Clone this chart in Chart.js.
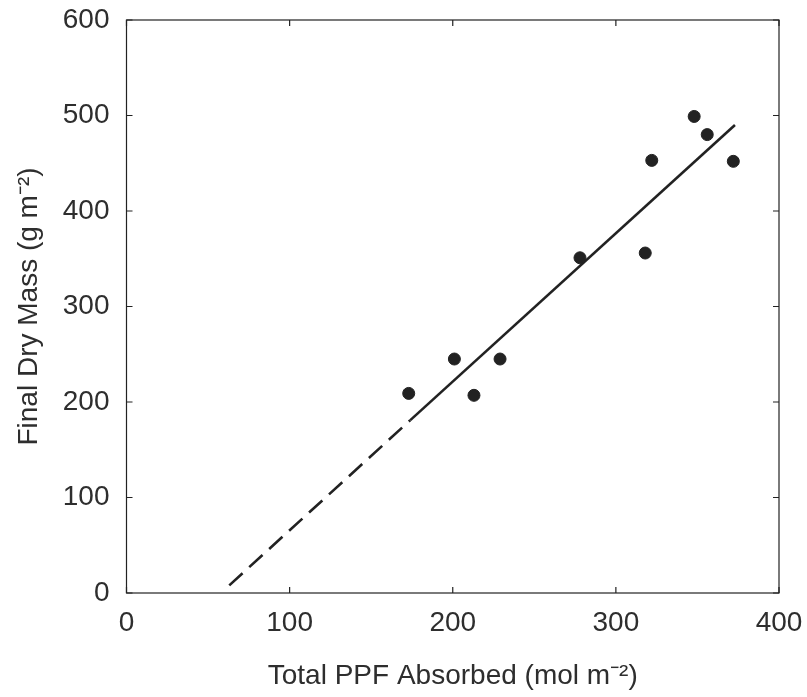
<!DOCTYPE html>
<html>
<head>
<meta charset="utf-8">
<script src="https://cdn.jsdelivr.net/npm/chart.js@4"></script>
<style>
  html, body { margin: 0; padding: 0; background: #ffffff; }
  #wrap { width: 807px; height: 697px; }
</style>
</head>
<body>
<div id="wrap"><canvas id="chart" width="807" height="697"></canvas></div>
<script>
const ppfAbsorbed = [173, 201, 213, 229, 278, 318, 322, 348, 356, 372];
const finalDryMass = [209, 245, 207, 245, 351, 356, 453, 499, 480, 452];

// Regression line: solid over the data range, dashed extrapolation below it
const fitSolidX = [174, 373];
const fitSolidY = [181, 490];
const fitDashX = [63, 174];
const fitDashY = [8, 181];

const xTicks = [0, 100, 200, 300, 400];
const yTicks = [0, 100, 200, 300, 400, 500, 600];

const inkColor = "#222222";
const textColor = "#2e2e2e";

function toPoints(xs, ys) {
  return xs.map((x, i) => ({ x: x, y: ys[i] }));
}

// Draw the frame and the inward-pointing ticks on all four sides
const frameTicks = {
  id: "frameTicks",
  afterDatasetsDraw(chart) {
    const { ctx, chartArea } = chart;
    const { left, right, top, bottom } = chartArea;
    const xs = chart.scales.x;
    const ys = chart.scales.y;
    const len = 6;
    ctx.save();
    ctx.strokeStyle = inkColor;
    ctx.lineWidth = 1.2;
    ctx.strokeRect(left, top, right - left, bottom - top);
    ctx.beginPath();
    xTicks.forEach((v) => {
      const px = xs.getPixelForValue(v);
      ctx.moveTo(px, bottom);
      ctx.lineTo(px, bottom - len);
      ctx.moveTo(px, top);
      ctx.lineTo(px, top + len);
    });
    yTicks.forEach((v) => {
      const py = ys.getPixelForValue(v);
      ctx.moveTo(left, py);
      ctx.lineTo(left + len, py);
      ctx.moveTo(right, py);
      ctx.lineTo(right - len, py);
    });
    ctx.stroke();
    ctx.restore();
  },
};

Chart.defaults.font.family = "'Liberation Sans', Arial, sans-serif";
Chart.defaults.color = textColor;

new Chart(document.getElementById("chart").getContext("2d"), {
  type: "scatter",
  data: {
    datasets: [
      {
        label: "Final dry mass",
        data: toPoints(ppfAbsorbed, finalDryMass),
        backgroundColor: inkColor,
        borderColor: inkColor,
        pointRadius: 6,
        pointHoverRadius: 6,
        order: 0,
      },
      {
        type: "line",
        label: "Fit",
        data: toPoints(fitSolidX, fitSolidY),
        borderColor: inkColor,
        borderWidth: 2.6,
        pointRadius: 0,
        fill: false,
        order: 1,
      },
      {
        type: "line",
        label: "Fit (extrapolated)",
        data: toPoints(fitDashX, fitDashY),
        borderColor: inkColor,
        borderWidth: 2.6,
        borderDash: [18, 9],
        pointRadius: 0,
        fill: false,
        order: 1,
      },
    ],
  },
  options: {
    responsive: false,
    animation: false,
    layout: { padding: { top: 20, right: 28, left: 0, bottom: 0 } },
    plugins: {
      legend: { display: false },
      tooltip: { enabled: false },
    },
    scales: {
      x: {
        type: "linear",
        min: 0,
        max: 400,
        afterBuildTicks: (scale) => {
          scale.ticks = xTicks.map((v) => ({ value: v }));
        },
        afterFit: (scale) => {
          scale.height = 104;
          scale.paddingLeft = 0;
          scale.paddingRight = 0;
        },
        grid: { display: false, drawTicks: false },
        border: { display: false },
        ticks: {
          font: { size: 28 },
          color: textColor,
          padding: 13,
          maxRotation: 0,
        },
        title: {
          display: true,
          text: "Total PPF Absorbed (mol m⁻²)",
          font: { size: 28 },
          color: textColor,
          padding: { top: 0, bottom: 4 },
        },
      },
      y: {
        type: "linear",
        min: 0,
        max: 600,
        afterBuildTicks: (scale) => {
          scale.ticks = yTicks.map((v) => ({ value: v }));
        },
        afterFit: (scale) => {
          scale.width = 126.5;
          scale.paddingTop = 0;
          scale.paddingBottom = 0;
        },
        grid: { display: false, drawTicks: false },
        border: { display: false },
        ticks: {
          font: { size: 28 },
          color: textColor,
          padding: 17,
        },
        title: {
          display: true,
          text: "Final Dry Mass (g m⁻²)",
          font: { size: 28 },
          color: textColor,
          padding: { top: 12, bottom: 0 },
        },
      },
    },
  },
  plugins: [frameTicks],
});
</script>
</body>
</html>
